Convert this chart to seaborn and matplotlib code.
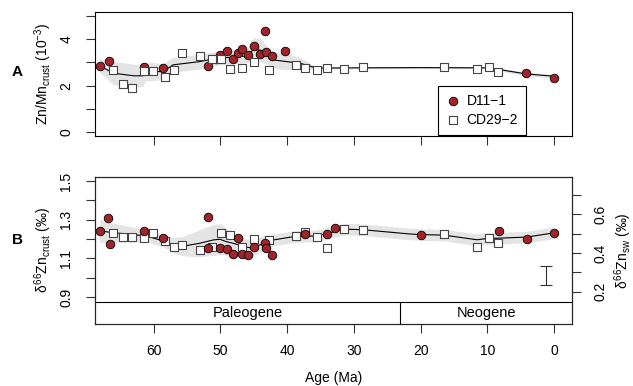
import numpy as np
import matplotlib
matplotlib.use("Agg")
import matplotlib.pyplot as plt
import seaborn as sns

# --- data ---
# CD29-2 (open squares), same sample ages in both panels
cd_age = [66.05, 64.55, 63.2, 61.5, 60.1, 58.35, 57.0, 55.7, 53.0, 51.25, 49.85, 48.6,
          46.75, 45.0, 42.7, 38.7, 37.3, 35.6, 34.1, 31.45, 28.7, 16.45, 11.55, 9.8, 8.45]
cd_znmn = [2.66, 2.07, 1.91, 2.63, 2.63, 2.37, 2.66, 3.40, 3.27, 3.16, 3.16, 2.70,
           2.75, 3.02, 2.66, 2.89, 2.77, 2.67, 2.75, 2.72, 2.80, 2.80, 2.73, 2.80, 2.57]
cd_d66 = [1.230, 1.211, 1.211, 1.204, 1.230, 1.190, 1.158, 1.169, 1.142, 1.158, 1.230, 1.223,
          1.158, 1.200, 1.195, 1.216, 1.235, 1.209, 1.155, 1.251, 1.246, 1.225, 1.158, 1.204, 1.178]

# D11-1 (red circles)
d11_age_a = [68.1, 66.7, 61.5, 58.6, 51.9, 50.7, 50.1, 48.95, 48.1, 47.3, 46.7, 45.85,
             44.95, 44.1, 43.35, 43.2, 42.35, 40.3, 4.2, 0.0]
d11_znmn = [2.85, 3.06, 2.80, 2.77, 2.86, 3.12, 3.32, 3.48, 3.16, 3.39, 3.56, 3.32,
            3.72, 3.36, 4.33, 3.45, 3.26, 3.50, 2.53, 2.32]
d11_age_b = [68.1, 66.8, 66.6, 61.5, 58.6, 51.8, 51.8, 50.1, 48.95, 48.1, 47.4, 46.7,
             45.8, 45.0, 43.3, 43.25, 42.3, 37.3, 34.05, 32.8, 19.95, 8.25, 4.15, 0.0]
d11_d66 = [1.242, 1.308, 1.175, 1.244, 1.206, 1.316, 1.152, 1.152, 1.149, 1.123, 1.206, 1.124,
           1.119, 1.158, 1.181, 1.152, 1.118, 1.225, 1.228, 1.256, 1.223, 1.240, 1.200, 1.232]

# smoothed trend and its band
trend_age_a = [68.1, 66.0, 63.0, 61.6, 61.3, 58.6, 57.1, 53.1, 50.6, 48.1, 46.1, 45.1,
               44.1, 43.1, 42.1, 40.1, 38.1, 35.6, 30.0, 20.0, 10.0, 8.5, 4.2, 0.0]
trend_znmn = [2.85, 2.53, 2.42, 2.42, 2.60, 2.60, 2.89, 3.03, 3.17, 3.22, 3.27, 3.53,
              3.53, 3.32, 3.10, 3.03, 2.96, 2.75, 2.76, 2.77, 2.76, 2.70, 2.50, 2.40]
band_znmn = [0.30, 0.50, 0.50, 0.45, 0.40, 0.35, 0.32, 0.32, 0.30, 0.28, 0.30, 0.50,
             0.50, 0.40, 0.35, 0.35, 0.25, 0.05, 0.04, 0.04, 0.05, 0.06, 0.08, 0.08]

trend_age_b = [68.1, 66.1, 61.1, 58.6, 57.1, 55.6, 53.1, 51.1, 50.1, 49.1, 48.1, 46.1,
               45.1, 43.6, 42.1, 39.1, 35.6, 34.1, 31.4, 28.65, 21.6, 20.0, 16.45,
               11.55, 9.8, 8.5, 4.15, 0.0]
trend_d66 = [1.242, 1.233, 1.216, 1.190, 1.169, 1.163, 1.178, 1.195, 1.199, 1.186, 1.178, 1.158,
             1.152, 1.178, 1.195, 1.212, 1.216, 1.228, 1.251, 1.248, 1.226, 1.223, 1.220,
             1.196, 1.204, 1.204, 1.210, 1.232]
band_d66 = [0.06, 0.05, 0.03, 0.03, 0.04, 0.05, 0.07, 0.08, 0.08, 0.07, 0.05, 0.04,
            0.04, 0.04, 0.03, 0.03, 0.03, 0.03, 0.03, 0.03, 0.03, 0.03, 0.03,
            0.03, 0.03, 0.03, 0.03, 0.03]

# offset between crust and seawater scales
sw_offset = 0.728
# error bar (2SD) in panel B
err_age, err_val, err_half = 1.2, 1.012, 0.048
# geological epochs
era_names = ["Paleogene", "Neogene"]
era_bounds = [23.03]

red = "#A3232B"
grey_band = "#E4E4E4"

sns.set_style("ticks")
plt.rcParams['font.family'] = ['Liberation Sans', 'DejaVu Sans']
plt.rcParams['font.size'] = 10
plt.rcParams['text.color'] = 'black'
plt.rcParams['axes.labelcolor'] = 'black'
plt.rcParams['xtick.color'] = 'black'
plt.rcParams['ytick.color'] = 'black'
plt.rcParams['mathtext.fontset'] = 'custom'
plt.rcParams['mathtext.rm'] = 'Liberation Sans'
plt.rcParams['mathtext.it'] = 'Liberation Sans'

fig = plt.figure(figsize=(6.33, 3.86), dpi=100)
ax_a = fig.add_axes([0.150, 0.648, 0.754, 0.321])
ax_b = fig.add_axes([0.150, 0.160, 0.754, 0.382])

xlim = (68.8, -2.7)
msize = 38


def style_axes(ax):
    for sp in ax.spines.values():
        sp.set_visible(True)
        sp.set_color("black")
        sp.set_linewidth(0.8)
    ax.tick_params(direction="out", length=6.5, width=0.8, color="#333333", labelsize=10)
    ax.tick_params(axis="y", pad=9)


# ---------- panel A ----------
lo = np.array(trend_znmn) - np.array(band_znmn)
hi = np.array(trend_znmn) + np.array(band_znmn)
ax_a.fill_between(trend_age_a, lo, hi, color=grey_band, lw=0, zorder=1)
sns.lineplot(x=trend_age_a, y=trend_znmn, sort=False, estimator=None, color="black",
             lw=0.8, ax=ax_a, zorder=2)
sns.scatterplot(x=d11_age_a, y=d11_znmn, marker="o", s=msize, color=red, edgecolor="black",
                linewidth=0.6, ax=ax_a, zorder=3, label="D11\u22121")
sns.scatterplot(x=cd_age, y=cd_znmn, marker="s", s=msize, color="white", edgecolor="#444444",
                linewidth=0.8, ax=ax_a, zorder=3, label="CD29\u22122")
ax_a.set_xlim(*xlim)
ax_a.set_ylim(-0.16, 5.16)
ax_a.set_yticks([0, 1, 2, 3, 4, 5])
ax_a.set_yticklabels(["0", "", "2", "", "4", ""], rotation=90, va="center")
ax_a.set_xticks([60, 50, 40, 30, 20, 10, 0])
ax_a.set_xticklabels([])
ax_a.set_xlabel("")
ax_a.set_ylabel(r"Zn/Mn$_{\rm crust}$ (10$^{-3}$)", fontsize=10, labelpad=4)
style_axes(ax_a)
leg = ax_a.legend(loc="upper left", bbox_to_anchor=(0.719, 0.403), frameon=True,
                  fancybox=False, edgecolor="black", framealpha=1, fontsize=10,
                  handletextpad=0.5, borderpad=0.55, labelspacing=0.4, handlelength=1.0,
                  borderaxespad=0)
leg.get_frame().set_linewidth(0.8)

# ---------- panel B ----------
lo = np.array(trend_d66) - np.array(band_d66)
hi = np.array(trend_d66) + np.array(band_d66)
ax_b.fill_between(trend_age_b, lo, hi, color=grey_band, lw=0, zorder=1)
sns.lineplot(x=trend_age_b, y=trend_d66, sort=False, estimator=None, color="black",
             lw=0.8, ax=ax_b, zorder=2)
sns.scatterplot(x=cd_age, y=cd_d66, marker="s", s=msize, color="white", edgecolor="#444444",
                linewidth=0.8, ax=ax_b, zorder=3, legend=False)
sns.scatterplot(x=d11_age_b, y=d11_d66, marker="o", s=msize, color=red, edgecolor="black",
                linewidth=0.6, ax=ax_b, zorder=3, legend=False)
ax_b.errorbar([err_age], [err_val], yerr=[err_half], fmt="none", ecolor="#333333",
              elinewidth=0.8, capsize=4, capthick=0.8)

y_lo, y_band = 0.759, 0.876
ax_b.set_xlim(*xlim)
ax_b.set_ylim(y_lo, 1.522)
# epoch band
ax_b.axhline(y_band, color="black", lw=0.8)
ax_b.plot([era_bounds[0], era_bounds[0]], [y_lo, y_band], color="black", lw=0.8)
edges = [xlim[0]] + era_bounds + [xlim[1]]
for name, a0, a1 in zip(era_names, edges[:-1], edges[1:]):
    ax_b.text((a0 + a1) / 2, (y_lo + y_band) / 2, name, ha="center", va="center", fontsize=10.5)

ax_b.set_yticks(np.round(np.arange(0.9, 1.51, 0.1), 1))
ax_b.set_yticklabels(["0.9", "", "1.1", "", "1.3", "", "1.5"], rotation=90, va="center")
ax_b.set_xticks([60, 50, 40, 30, 20, 10, 0])
ax_b.set_xlabel("Age (Ma)", fontsize=10, labelpad=9)
ax_b.set_ylabel(r"$\delta^{66}$Zn$_{\rm crust}$ (‰)", fontsize=10, labelpad=4)
style_axes(ax_b)
ax_b.tick_params(axis="x", pad=8)

# right axis: seawater scale
ax_r = ax_b.twinx()
ax_r.set_ylim(y_lo - sw_offset, 1.522 - sw_offset)
ax_r.set_yticks([0.2, 0.3, 0.4, 0.5, 0.6, 0.7])
ax_r.set_yticklabels(["0.2", "", "0.4", "", "0.6", ""], rotation=90, va="center")
ax_r.set_ylabel(r"$\delta^{66}$Zn$_{\rm sw}$ (‰)", fontsize=10, labelpad=3)
ax_r.tick_params(direction="out", length=6.5, width=0.8, color="#333333", labelsize=10, pad=9)
for sp in ax_r.spines.values():
    sp.set_linewidth(0.8)

fig.text(12 / 633, 1 - 72 / 386, "A", fontsize=11, fontweight="bold", ha="left", va="center")
fig.text(12 / 633, 1 - 240 / 386, "B", fontsize=11, fontweight="bold", ha="left", va="center")

fig.savefig("out.png", dpi=100)
